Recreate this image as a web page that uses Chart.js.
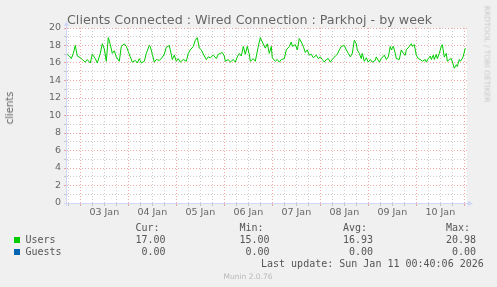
<!DOCTYPE html>
<html lang="en">
<head>
<meta charset="UTF-8">
<title>Clients Connected : Wired Connection : Parkhoj - by week</title>
<script src="https://cdn.jsdelivr.net/npm/chart.js"></script>
<style>
  body { margin: 0; background: #f0f0f0; }
  #wrap { position: relative; width: 497px; height: 287px; overflow: hidden; font-family: "DejaVu Sans", sans-serif; color: #666; }
  #wrap canvas { position: absolute; left: 0; top: 0; }
  .t { position: absolute; white-space: pre; }
  .mono { font-family: "DejaVu Sans Mono", monospace; font-size: 10px; line-height: 12px; color: #555; }
  .sq { position: absolute; width: 6px; height: 6px; }
</style>
</head>
<body>
<div id="wrap">
  <canvas id="chart" width="497" height="287"></canvas>

  <div class="t" style="left:67px; top:13px; font-size:12.7px; line-height:14px;">Clients Connected : Wired Connection : Parkhoj - by week</div>
  <div class="t" style="left:10px; top:108px; font-size:10px; line-height:12px; transform: translate(-50%, -50%) rotate(-90deg);">clients</div>
  <div class="t" style="left:487px; top:54px; font-size:7.5px; line-height:9px; color:#c8c8c8; transform: translate(-50%, -50%) rotate(90deg);">RRDTOOL / TOBI OETIKER</div>

  <div class="t mono" style="left:135.5px; top:222px;">Cur:</div>
  <div class="t mono" style="left:239.5px; top:222px;">Min:</div>
  <div class="t mono" style="left:343px; top:222px;">Avg:</div>
  <div class="t mono" style="left:446px; top:222px;">Max:</div>

  <div class="sq" style="left:14px; top:237px; background:#00cc00;"></div>
  <div class="t mono" style="left:25.5px; top:234px;">Users</div>
  <div class="t mono" style="left:135.5px; top:234px;">17.00</div>
  <div class="t mono" style="left:239.5px; top:234px;">15.00</div>
  <div class="t mono" style="left:343px; top:234px;">16.93</div>
  <div class="t mono" style="left:446px; top:234px;">20.98</div>

  <div class="sq" style="left:14px; top:249px; background:#0066b3;"></div>
  <div class="t mono" style="left:25.5px; top:246px;">Guests</div>
  <div class="t mono" style="left:135.5px; top:246px;"> 0.00</div>
  <div class="t mono" style="left:239.5px; top:246px;"> 0.00</div>
  <div class="t mono" style="left:343px; top:246px;"> 0.00</div>
  <div class="t mono" style="left:446px; top:246px;"> 0.00</div>

  <div class="t mono" style="left:261px; top:258px;">Last update: Sun Jan 11 00:40:06 2026</div>
  <div class="t" style="left:248px; top:276px; font-size:7.5px; line-height:9px; color:#b8b8b8; transform: translate(-50%, -50%);">Munin 2.0.76</div>
</div>

<script>
// hours since 03 Jan 00:00, one reading every ~1-1.5 h
const hours = [
  -6.5, -5.5, -4.5, -3.5, -2.5, -1.5, 0, 1, 2.5, 3.5,
  5, 6, 7.5, 8.5, 10, 11, 12, 13, 14, 15,
  16, 17, 18, 19.5, 20.5, 22, 23, 24, 25, 26,
  27.5, 28.5, 29.5, 30.5, 32, 33, 34.5, 35, 36, 37,
  38, 39.5, 40.5, 42, 43, 44.5, 45, 46, 47, 48,
  49, 50, 51.5, 53, 54, 55, 56.5, 57.5, 58.5, 59.5,
  60.5, 62, 63, 64, 65, 66.5, 68, 69, 70, 71,
  72, 72.5, 74, 75, 76.5, 77.5, 78.5, 79.5, 80.5, 81.5,
  82.5, 83.5, 84.5, 85, 86.5, 87.5, 89, 90, 91, 92.5,
  93.5, 94.5, 95.5, 96, 97.5, 98.5, 99.5, 100.5, 102, 103,
  104.5, 105.5, 106, 107.5, 108.5, 109.5, 110.5, 111.5, 112.5, 113.5,
  114.5, 115.5, 116.5, 118, 119, 120, 121, 122, 123, 124,
  125, 126, 127.5, 128.5, 129.5, 130.5, 132, 133, 134, 135,
  136, 137, 138, 138.5, 139.5, 140.5, 141, 142, 143, 144,
  145, 146, 147.5, 148, 149.5, 150.5, 152, 153, 154, 155,
  155.5, 156.5, 157.5, 158, 159.5, 160.5, 161.5, 162.5, 163, 164.5,
  165.5, 166, 167, 168, 169, 170, 171, 172.5, 173, 174,
  175, 175.5, 176.5, 177, 178, 178.5, 179.5, 180.5, 181, 182,
  183, 183.5, 184.5, 185.5, 186.5, 187, 188, 188.5, 189.5, 190,
  191, 191.5, 192.5
];

const users = [
  17.0, 16.8, 16.5, 17.1, 18.0, 16.8, 16.6, 16.4, 16.1, 16.4,
  16.0, 17.0, 16.5, 16.0, 17.1, 18.2, 17.6, 16.2, 18.9, 18.1,
  17.1, 17.4, 16.7, 16.2, 17.9, 18.2, 17.9, 17.3, 16.7, 16.1,
  16.3, 16.0, 16.5, 16.0, 16.2, 17.1, 18.0, 17.9, 17.0, 16.1,
  16.4, 16.3, 16.5, 17.0, 17.8, 18.0, 17.5, 16.4, 16.9, 16.2,
  16.5, 16.1, 16.4, 16.2, 17.1, 17.5, 17.9, 18.6, 18.9, 17.7,
  17.5, 16.8, 16.4, 16.7, 16.6, 16.9, 16.5, 17.0, 17.1, 17.2,
  16.8, 16.2, 16.4, 16.1, 16.4, 16.1, 16.7, 17.1, 16.8, 17.9,
  17.0, 17.9, 17.0, 16.2, 16.5, 16.2, 17.9, 18.9, 18.4, 17.7,
  18.2, 17.1, 17.9, 16.6, 16.2, 16.4, 16.1, 16.4, 16.5, 17.5,
  17.9, 18.4, 17.9, 18.1, 17.5, 18.8, 18.4, 17.9, 17.2, 17.5,
  16.9, 17.0, 16.6, 16.9, 16.5, 16.7, 16.4, 16.1, 16.4, 16.5,
  16.1, 16.4, 16.8, 17.0, 17.5, 17.9, 18.0, 17.5, 17.1, 16.7,
  17.1, 18.6, 18.2, 17.5, 17.1, 16.5, 17.1, 16.2, 16.6, 16.1,
  16.4, 16.1, 16.3, 16.7, 16.1, 16.5, 16.9, 16.4, 16.7, 17.9,
  17.5, 17.9, 17.1, 16.5, 16.4, 17.5, 17.1, 16.9, 17.5, 17.9,
  18.2, 17.9, 18.1, 16.9, 16.5, 16.4, 16.2, 16.4, 16.1, 16.5,
  16.8, 16.4, 16.9, 16.4, 17.0, 16.5, 17.1, 17.9, 18.1, 16.7,
  17.1, 16.2, 16.4, 16.5, 15.8, 15.4, 15.8, 15.6, 16.4, 16.2,
  16.5, 16.8, 17.7
];

// guests stayed at zero all week
const guestHours = [-6.5, 192.5];
const guests = [0, 0];

// day labels sit at noon of each day
const dayLabels = ['03 Jan', '04 Jan', '05 Jan', '06 Jan', '07 Jan', '08 Jan', '09 Jan', '10 Jan'];

const MGRID = 'rgba(222, 60, 60, 0.45)';
const GRID = 'rgba(143, 143, 143, 0.45)';
const AXIS = '#cfd6f8';

// every 6 hours, major line at midnight
const gridHours = [];
for (let h = -6; h <= 192; h += 6) gridHours.push(h);

const canvasBg = {
  id: 'canvasBg',
  beforeDraw(chart) {
    const { ctx, chartArea: a } = chart;
    ctx.save();
    ctx.fillStyle = '#ffffff';
    ctx.fillRect(a.left, a.top, a.right - a.left, a.bottom - a.top);
    ctx.restore();
  }
};

// rrdtool style axes with small arrow heads
const axisArrows = {
  id: 'axisArrows',
  afterDatasetsDraw(chart) {
    const { ctx, chartArea: a } = chart;
    ctx.save();
    ctx.strokeStyle = AXIS;
    ctx.fillStyle = AXIS;
    ctx.lineWidth = 1;
    ctx.beginPath();
    ctx.moveTo(a.left - 3, a.bottom + 0.5);
    ctx.lineTo(a.right + 2, a.bottom + 0.5);
    ctx.moveTo(a.left - 0.5, a.bottom + 3);
    ctx.lineTo(a.left - 0.5, a.top - 2);
    ctx.stroke();
    ctx.beginPath();
    ctx.moveTo(a.right + 6, a.bottom + 0.5);
    ctx.lineTo(a.right + 1, a.bottom - 2);
    ctx.lineTo(a.right + 1, a.bottom + 3);
    ctx.closePath();
    ctx.fill();
    ctx.beginPath();
    ctx.moveTo(a.left - 0.5, a.top - 7);
    ctx.lineTo(a.left - 3, a.top - 2);
    ctx.lineTo(a.left + 2, a.top - 2);
    ctx.closePath();
    ctx.fill();
    ctx.restore();
  }
};

const tickFont = { family: 'DejaVu Sans', size: 9.5 };

new Chart(document.getElementById('chart'), {
  type: 'line',
  data: {
    datasets: [
      {
        label: 'Users',
        data: hours.map((h, i) => ({ x: h, y: users[i] })),
        borderColor: '#00cc00',
        borderWidth: 1,
        pointRadius: 0,
        tension: 0,
        fill: false
      },
      {
        label: 'Guests',
        data: guestHours.map((h, i) => ({ x: h, y: guests[i] })),
        borderColor: '#0066b3',
        borderWidth: 1,
        pointRadius: 0,
        tension: 0,
        fill: false,
        // sits under the x axis line, as in rrdtool
        clip: { left: 0, top: 0, right: 0, bottom: -1 }
      }
    ]
  },
  options: {
    responsive: false,
    animation: false,
    devicePixelRatio: 1,
    layout: { padding: { left: 0, top: 28, right: 30, bottom: 64 } },
    plugins: {
      legend: { display: false },
      tooltip: { enabled: false }
    },
    scales: {
      x: {
        type: 'linear',
        min: -6.65,
        max: 193.35,
        afterFit: s => { s.height = 20; },
        afterBuildTicks: s => { s.ticks = gridHours.map(v => ({ value: v })); },
        ticks: {
          autoSkip: false,
          maxRotation: 0,
          padding: 1,
          color: '#666',
          font: tickFont,
          callback: v => ((v - 12) % 24 === 0 ? dayLabels[(v - 12) / 24] : '')
        },
        grid: {
          color: c => (c.tick && c.tick.value % 24 === 0 ? MGRID : GRID),
          lineWidth: 1,
          tickLength: 3
        },
        border: { display: false, dash: [1, 2] }
      },
      y: {
        min: 0,
        max: 20,
        afterFit: s => { s.width = 67; },
        ticks: {
          stepSize: 1,
          autoSkip: false,
          padding: 3,
          color: '#666',
          font: tickFont,
          callback: v => (v % 2 === 0 ? v : '')
        },
        grid: {
          color: c => (c.tick && c.tick.value % 2 === 0 ? MGRID : GRID),
          lineWidth: 1,
          tickLength: 3
        },
        border: { display: false, dash: [1, 2] }
      }
    }
  },
  plugins: [canvasBg, axisArrows]
});
</script>
</body>
</html>
